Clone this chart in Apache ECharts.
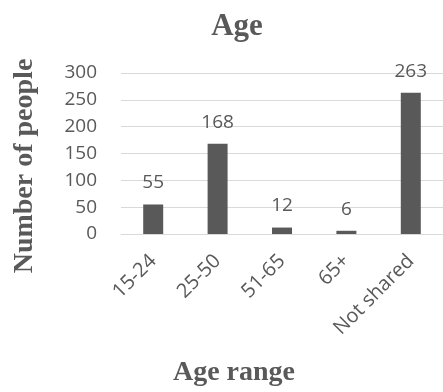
<!DOCTYPE html>
<html>
<head>
<meta charset="utf-8">
<script src="https://cdn.jsdelivr.net/npm/echarts@6/dist/echarts.min.js"></script>
<style>
  html, body { margin: 0; padding: 0; background: #fff; }
  #chart { width: 443px; height: 392px; }
</style>
</head>
<body>
<div id="chart"></div>
<script>
// Age ranges and respondent counts
const categories = ['15-24', '25-50', '51-65', '65+', 'Not shared'];
const counts = [55, 168, 12, 6, 263];
const yTicks = [0, 50, 100, 150, 200, 250, 300];

const textColor = '#595959';
const serif = '"Liberation Serif", "Times New Roman", serif';
const sans = '"Open Sans", "Noto Sans", sans-serif';

const chart = echarts.init(document.getElementById('chart'));
chart.setOption({
  animation: false,
  title: {
    text: 'Age',
    left: 232,
    top: 6,
    textAlign: 'center',
    textStyle: { fontFamily: serif, fontWeight: 'bold', fontSize: 31, color: textColor }
  },
  grid: { left: 121, top: 73, width: 325, height: 161, containLabel: false },
  xAxis: {
    type: 'category',
    data: categories,
    axisLine: { show: true, lineStyle: { color: '#d9d9d9' } },
    axisTick: { show: false },
    axisLabel: { rotate: 45, fontFamily: sans, fontSize: 20, color: textColor, margin: 24 }
  },
  yAxis: {
    type: 'value',
    min: yTicks[0],
    max: yTicks[yTicks.length - 1],
    interval: 50,
    axisLine: { show: false },
    axisTick: { show: false },
    axisLabel: { fontFamily: sans, fontSize: 19, color: textColor, margin: 24 },
    splitLine: { lineStyle: { color: '#d9d9d9', width: 1 } }
  },
  graphic: [
    {
      type: 'text',
      x: 25,
      y: 166,
      rotation: Math.PI / 2,
      style: {
        text: 'Number of people',
        font: 'bold 28px ' + serif,
        fill: textColor,
        align: 'center',
        verticalAlign: 'middle'
      }
    },
    {
      type: 'text',
      x: 234,
      y: 373,
      style: {
        text: 'Age range',
        font: 'bold 28px ' + serif,
        fill: textColor,
        align: 'center',
        verticalAlign: 'middle'
      }
    }
  ],
  series: [{
    type: 'bar',
    data: counts,
    barWidth: 20,
    itemStyle: { color: '#595959' },
    label: {
      show: true,
      position: 'top',
      distance: 12,
      fontFamily: sans,
      fontSize: 19,
      color: textColor
    }
  }]
});
</script>
</body>
</html>
